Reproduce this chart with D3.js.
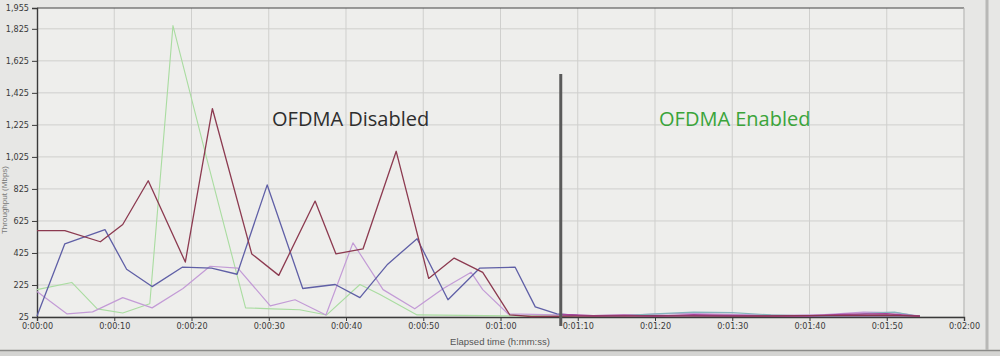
<!DOCTYPE html>
<html>
<head>
<meta charset="utf-8">
<script src="https://cdn.jsdelivr.net/npm/d3@7"></script>
<style>
  html, body { margin: 0; padding: 0; background: #e7e7e5; }
  svg { display: block; }
</style>
</head>
<body>
<svg id="chart" width="1000" height="356"></svg>
<script>
// ---- data ----
const yTicks = [25, 225, 425, 625, 825, 1025, 1225, 1425, 1625, 1825, 1955];
const xTicks = [0, 10, 20, 30, 40, 50, 60, 70, 80, 90, 100, 110, 120]; // seconds

const maroonTimes  = [0, 3.6, 8.2, 11.1, 14.4, 19.2, 22.7, 27.8, 31.3, 36, 38.7, 42.2, 46.5, 50.7, 54, 57.7, 61.2, 64, 70, 80, 90, 100, 110, 114.3];
const maroonValues = [565, 565, 495, 603, 876, 368, 1327, 419, 285, 749, 419, 450, 1060, 266, 393, 304, 38, 28, 30, 32, 30, 33, 36, 30];

const blueTimes  = [0, 3.6, 8.8, 11.6, 14.9, 18.8, 22.6, 25.9, 29.8, 34.4, 38.6, 41.8, 45.4, 49.2, 53.2, 57.3, 61.9, 64.5, 67.3, 70, 80, 90, 100, 110, 114.3];
const blueValues = [31, 482, 571, 323, 215, 336, 330, 292, 850, 203, 228, 146, 355, 514, 133, 330, 336, 88, 44, 35, 33, 30, 32, 34, 30];

const greenTimes  = [0, 4.5, 7.8, 11.1, 14.6, 17.6, 22, 27, 30.5, 34, 37.5, 41.8, 44.4, 49.2, 55, 62, 70];
const greenValues = [196, 241, 76, 50, 108, 1845, 1009, 82, 76, 70, 38, 228, 165, 38, 35, 32, 30];

const violetTimes  = [0, 3.9, 7.2, 11.1, 14.9, 18.9, 22.4, 26, 30.2, 33.4, 37.4, 40.9, 44.8, 48.9, 52.6, 56.2, 57.7, 61, 67.3, 72, 78, 84, 90, 96, 102, 107, 111, 114.3];
const violetValues = [184, 44, 57, 146, 82, 203, 342, 330, 95, 133, 38, 488, 196, 76, 203, 304, 196, 44, 38, 34, 40, 48, 42, 36, 40, 55, 52, 30];

const magentaTimes  = [68, 72, 76, 80, 85, 90, 95, 100, 105, 110, 114.3];
const magentaValues = [40, 32, 35, 30, 38, 34, 30, 32, 42, 45, 30];

const tealTimes  = [68, 75, 80, 85, 90, 95, 100, 105, 108, 111, 114.3];
const tealValues = [35, 30, 45, 55, 52, 38, 30, 35, 50, 55, 28];

const seriesList = [
  { times: greenTimes,   values: greenValues,   color: "#a9dca0", w: 1.1 },
  { times: violetTimes,  values: violetValues,  color: "#c39bd6", w: 1.2 },
  { times: tealTimes,    values: tealValues,    color: "#86b4bc", w: 1.2 },
  { times: blueTimes,    values: blueValues,    color: "#5f5fa6", w: 1.3 },
  { times: magentaTimes, values: magentaValues, color: "#a8429a", w: 1.6 },
  { times: maroonTimes,  values: maroonValues,  color: "#8c3a50", w: 1.3 }
];

// ---- layout ----
const svg = d3.select("#chart");
const x0 = 37, x1 = 964, yTop = 8, yBot = 317;
const x = d3.scaleLinear().domain([0, 120]).range([x0, x1]);
const y = d3.scaleLinear().domain([25, 1955]).range([yBot, yTop]);

// bottom status band
svg.append("rect").attr("x", 0).attr("y", 350).attr("width", 1000).attr("height", 6).attr("fill", "#d4d4d2");
svg.append("line").attr("x1", 0).attr("x2", 1000).attr("y1", 350.5).attr("y2", 350.5).attr("stroke", "#8a8a88").attr("stroke-width", 1.5);
// right panel edge
svg.append("line").attr("x1", 987).attr("x2", 987).attr("y1", 0).attr("y2", 350).attr("stroke", "#b8b8b6").attr("stroke-width", 3);

// plot background
svg.append("rect").attr("x", x0).attr("y", yTop).attr("width", x1 - x0).attr("height", yBot - yTop).attr("fill", "#eeeeec");

// gridlines
svg.append("g").selectAll("line").data(yTicks.slice(0, -1)).join("line")
  .attr("x1", x0).attr("x2", x1).attr("y1", d => y(d)).attr("y2", d => y(d))
  .attr("stroke", "#cfcfcd").attr("stroke-width", 1);
svg.append("g").selectAll("line").data(xTicks.slice(1)).join("line")
  .attr("x1", d => x(d)).attr("x2", d => x(d)).attr("y1", yTop).attr("y2", yBot)
  .attr("stroke", "#cfcfcd").attr("stroke-width", 1);

// frame top / right
svg.append("line").attr("x1", x0).attr("x2", x1).attr("y1", yTop).attr("y2", yTop).attr("stroke", "#444").attr("stroke-width", 1.2);
svg.append("line").attr("x1", x1).attr("x2", x1).attr("y1", yTop).attr("y2", yBot).attr("stroke", "#bdbdbb").attr("stroke-width", 1);

// axes
const fmtComma = d3.format(",");
const yAxis = d3.axisLeft(y).tickValues(yTicks).tickFormat(fmtComma).tickSize(5).tickPadding(3);
const fmtTime = s => {
  const h = Math.floor(s / 3600), m = Math.floor((s % 3600) / 60), sec = s % 60;
  return h + ":" + String(m).padStart(2, "0") + ":" + String(sec).padStart(2, "0");
};
const xAxis = d3.axisBottom(x).tickValues(xTicks).tickFormat(fmtTime).tickSize(4).tickPadding(2);

const gy = svg.append("g").attr("transform", `translate(${x0},0)`).call(yAxis);
const gx = svg.append("g").attr("transform", `translate(0,${yBot})`).call(xAxis);
[gy, gx].forEach(g => {
  g.selectAll(".domain").attr("stroke", "#3a3a3a").attr("stroke-width", 1.4);
  g.selectAll(".tick line").attr("stroke", "#3a3a3a");
  g.selectAll("text").attr("fill", "#3a3a3a")
    .style("font-family", "'Liberation Sans Narrow', 'DejaVu Sans Condensed', sans-serif")
    .style("font-size", "9px");
});

// axis titles
svg.append("text").attr("x", 500).attr("y", 345).attr("text-anchor", "middle")
  .attr("fill", "#555").style("font-family", "'Liberation Sans Narrow', sans-serif").style("font-size", "9.5px")
  .text("Elapsed time (h:mm:ss)");
svg.append("text").attr("transform", "translate(7,200) rotate(-90)").attr("text-anchor", "middle")
  .attr("fill", "#777").style("font-family", "'Liberation Sans Narrow', sans-serif").style("font-size", "8px")
  .text("Throughput (Mbps)");

// series lines
const line = d3.line().x(d => x(d[0])).y(d => y(d[1]));
svg.append("g").selectAll("path").data(seriesList).join("path")
  .attr("d", s => line(s.times.map((t, i) => [t, s.values[i]])))
  .attr("fill", "none")
  .attr("stroke", s => s.color)
  .attr("stroke-width", s => s.w)
  .attr("stroke-linejoin", "round");

// separator
svg.append("line").attr("x1", x(67.8)).attr("x2", x(67.8)).attr("y1", 74).attr("y2", 326)
  .attr("stroke", "#5a5a5a").attr("stroke-width", 3);

// annotations
svg.append("text").attr("x", 272).attr("y", 126)
  .attr("fill", "#2e2e2e").style("font-family", "'Open Sans', 'Noto Sans', sans-serif").style("font-size", "20px")
  .text("OFDMA Disabled");
svg.append("text").attr("x", 659).attr("y", 126)
  .attr("fill", "#3aa43a").style("font-family", "'Open Sans', 'Noto Sans', sans-serif").style("font-size", "20px")
  .text("OFDMA Enabled");
</script>
</body>
</html>
